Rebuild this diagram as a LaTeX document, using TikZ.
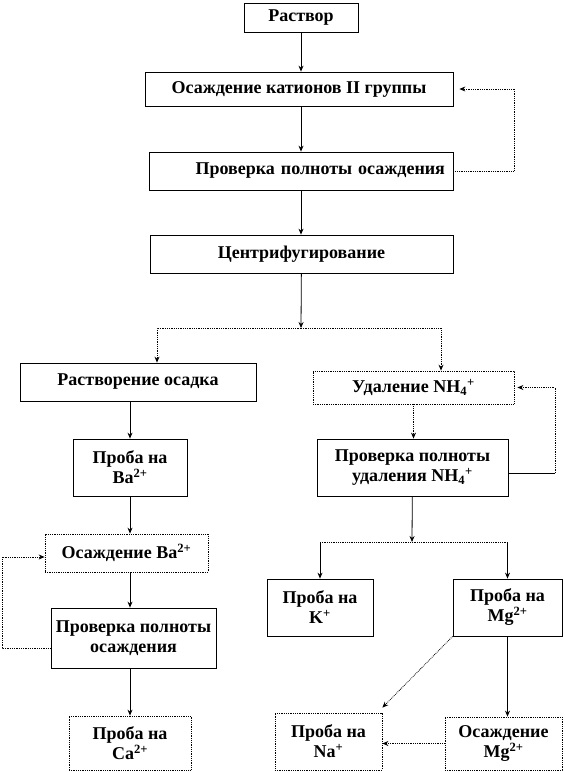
\documentclass[tikz,border=0pt]{standalone}
\usepackage{fontspec}
\setmainfont{Liberation Serif}
\usetikzlibrary{arrows.meta, calc}
\tikzset{
    scheme/.style={x=1pt, y=-1pt, >={Stealth[length=6pt, width=5pt]}, line width=0.8pt,
        font=\fontsize{18}{20}\selectfont\bfseries},
    box/.style={draw, align=center, inner sep=2pt},
    dotbox/.style={box, densely dotted},
    dotline/.style={densely dotted},
    wh/.style 2 args={minimum width=#1pt, minimum height=#2pt},
}

\begin{document}
\begin{tikzpicture}[scheme]
    \useasboundingbox (0,0) rectangle (565,772);

    \node[box, wh={114}{29}]    (rastvor)     at (301,17.5)  {Раствор};
    \node[box, wh={308}{34}]    (osazhd)      at (299,89)    {Осаждение катионов II группы};
    \node[box, wh={304}{38}, text width=288pt, align=right, inner xsep=8pt]
                                (prov1)       at (301,171)   {Проверка полноты осаждения};
    \node[box, wh={303}{38}]    (centr)       at (301.5,254) {Центрифугирование};
    \node[box, wh={236}{38}]    (rastvorenie) at (138,382)   {Растворение осадка};
    \node[dotbox, wh={201}{33}] (udalenie)    at (413.5,387.5) {Удаление NH\textsubscript{4}\textsuperscript{+}};
    \node[box, wh={114}{57}]    (probaBa)     at (130,467.5) {Проба на\\Ba\textsuperscript{2+}};
    \node[box, wh={191}{57}]    (prov2)       at (412.5,467.5) {Проверка полноты\\удаления NH\textsubscript{4}\textsuperscript{+}};
    \node[dotbox, wh={163}{38}] (osBa)        at (126.5,553) {Осаждение Ba\textsuperscript{2+}};
    \node[box, wh={165}{60}]    (prov3)       at (133.5,638) {Проверка полноты\\осаждения};
    \node[box, wh={106}{57}]    (probaK)      at (320,607.5) {Проба на\\K\textsuperscript{+}};
    \node[box, wh={109}{57}]    (probaMg)     at (507.5,607.5) {Проба на\\Mg\textsuperscript{2+}};
    \node[dotbox, wh={122}{54}] (probaCa)     at (130,743)   {Проба на\\Ca\textsuperscript{2+}};
    \node[dotbox, wh={107}{57}] (probaNa)     at (328.5,741.5) {Проба на\\Na\textsuperscript{+}};
    \node[dotbox, wh={117}{53}] (osMg)        at (503.5,743.5) {Осаждение\\Mg\textsuperscript{2+}};

    \coordinate (split1) at (301,328);
    \coordinate (split2) at (412,542);
    \coordinate (loopN)  at (555,473);
    \coordinate (loopBa) at (2,648);

    % upper column
    \draw[->] (rastvor) -- (rastvor |- osazhd.north);
    \draw[->] (rastvor |- osazhd.south) -- (rastvor |- prov1.north);
    \draw[dotline, ->] (prov1.east) -- ++(61,0) |- ([xshift=6pt]osazhd.east);
    \draw[->] (rastvor |- prov1.south) -- (rastvor |- centr.north);
    \draw[->] (centr) -- (split1);
    \draw[dotline, ->] (split1) -| ([xshift=19pt]rastvorenie.north);
    \draw[dotline, ->] (split1) -| ([xshift=27.5pt]udalenie.north);

    % left branch
    \draw[->] (probaBa |- rastvorenie.south) -- (probaBa.north);
    \draw[->] (probaBa) -- (probaBa |- osBa.north);
    \draw[->] (probaBa |- osBa.south) -- (probaBa |- prov3.north);
    \draw[dotline, ->] ([yshift=-10pt]prov3.west) -- (loopBa) |- ([yshift=-4pt]osBa.west);
    \draw[->] (probaBa |- prov3.south) -- (probaBa |- probaCa.north);

    % right branch
    \draw[dotline, ->] (udalenie) -- (udalenie |- prov2.north);
    \draw (prov2.east |- loopN) -- (loopN);
    \draw[dotline, ->] (loopN) |- ([xshift=3pt]udalenie.east);
    \draw[->] (prov2) -- (split2);
    \draw[dotline] (probaK |- split2) -- (probaMg.north |- split2);
    \draw[->] (probaK |- split2) -- (probaK);
    \draw[->] (probaMg.north |- split2) -- (probaMg);
    \draw[->] (probaMg.south) -- (probaMg.south |- osMg.north);
    \draw[dotline, ->] (probaMg.south west) -- ([yshift=5pt]probaNa.north east);
    \draw[dotline, ->] (osMg.west) -- (osMg.west -| probaNa.east);
\end{tikzpicture}
\end{document}
